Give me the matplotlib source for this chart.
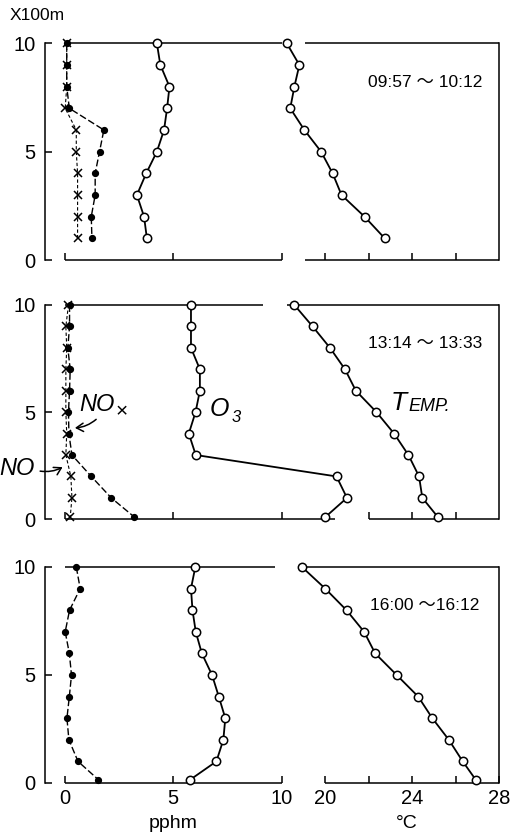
import matplotlib
matplotlib.use("Agg")
import matplotlib.pyplot as plt

plt.rcParams['font.family'] = ['Liberation Sans', 'Noto Sans CJK JP', 'DejaVu Sans']

# ---- vertical profiles (height in units of 100 m) ----
heights_1 = [10, 9, 8, 7, 6, 5, 4, 3, 2, 1]
no_1 = [0.1, 0.1, 0.1, 0.03, 0.54, 0.54, 0.6, 0.6, 0.6, 0.6]
nox_1 = [0.1, 0.1, 0.1, 0.22, 1.81, 1.61, 1.41, 1.41, 1.23, 1.26]
o3_1 = [4.25, 4.41, 4.83, 4.72, 4.58, 4.25, 3.76, 3.33, 3.66, 3.79]
temp_1 = [18.23, 18.81, 18.58, 18.39, 19.04, 19.81, 20.34, 20.75, 21.81, 22.74]

heights_2 = [10, 9, 8, 7, 6, 5, 4, 3, 2, 1, 0.1]
no_2 = [0.18, 0.06, 0.1, 0.06, 0.06, 0.06, 0.1, 0.06, 0.29, 0.34, 0.26]
nox_2 = [0.23, 0.23, 0.15, 0.26, 0.23, 0.18, 0.2, 0.34, 1.23, 2.15, 3.22]
o3_2 = [5.82, 5.82, 5.82, 6.23, 6.23, 6.03, 5.72, 6.04, 12.52, 13.0, 12.0]
temp_2 = [18.58, 19.42, 20.22, 20.91, 21.41, 22.36, 23.17, 23.83, 24.32, 24.47, 25.19]

heights_3 = [10, 9, 8, 7, 6, 5, 4, 3, 2, 1, 0.15]
nox_3 = [0.54, 0.72, 0.23, 0.03, 0.22, 0.32, 0.22, 0.11, 0.2, 0.62, 1.56]
o3_3 = [6.02, 5.82, 5.89, 6.04, 6.32, 6.79, 7.1, 7.4, 7.31, 6.99, 5.78]
temp_3 = [18.93, 20.0, 20.98, 21.79, 22.3, 23.29, 24.28, 24.93, 25.69, 26.33, 26.93]

periods = ["09:57 〜 10:12", "13:14 〜 13:33", "16:00 〜16:12"]

y_ticks = [0, 5, 10]
pphm_ticks = [0, 5, 10]
pphm_labels = ["0", "5", "10"]
degc_ticks = [20, 22, 24, 26, 28]
degc_labels = ["20", "", "24", "", "28"]

# the temperature scale shares the frame with the pphm scale: T (°C) sits at T - 8
T_SHIFT = 8

fig = plt.figure(figsize=(5.17, 8.33), dpi=100)

LEFT, WIDTH = 45 / 517, 454 / 517
boxes = [
    (1 - 260 / 833, 216.7 / 833),
    (1 - 519.3 / 833, 214.3 / 833),
    (1 - 783 / 833, 216.0 / 833),
]

# broken frame lines (top, bottom) and which °C ticks each panel shows
frames = [
    dict(top=[(0, 10), (11.07, 20)], bottom=[(0, 10), (11.07, 20)], degc=[20, 22, 24, 26]),
    dict(top=[(0, 9.13), (10.25, 20)], bottom=[(0, 12.45), (14, 20)], degc=[22, 24, 26]),
    dict(top=[(0, 9.7), (10.9, 20)], bottom=[(0, 10), (12, 20)], degc=[20, 22, 24, 26, 28]),
]

panels = [
    (heights_1, no_1, nox_1, o3_1, temp_1),
    (heights_2, no_2, nox_2, o3_2, temp_2),
    (heights_3, None, nox_3, o3_3, temp_3),
]

LW = 1.1
axes = []
for i, ((bottom, height), fr, (h, no, nox, o3, temp)) in enumerate(zip(boxes, frames, panels)):
    ax = fig.add_axes([LEFT, bottom, WIDTH, height])
    axes.append(ax)
    ax.set_xlim(-0.9, 20)
    ax.set_ylim(0, 10)
    for side in ("top", "bottom"):
        ax.spines[side].set_visible(False)
    for side in ("left", "right"):
        ax.spines[side].set_linewidth(LW)

    for a, b in fr["top"]:
        ax.plot([a, b], [10, 10], color="k", lw=LW, clip_on=False, solid_capstyle="butt")
    for a, b in fr["bottom"]:
        ax.plot([a, b], [0, 0], color="k", lw=LW, clip_on=False, solid_capstyle="butt")

    ticks = pphm_ticks + [t - T_SHIFT for t in fr["degc"]]
    labels = pphm_labels + [degc_labels[degc_ticks.index(t)] for t in fr["degc"]]
    ax.set_xticks(ticks)
    ax.set_xticklabels(labels)
    ax.set_yticks(y_ticks)
    ax.set_yticklabels([str(v) for v in y_ticks])
    ax.tick_params(axis="both", direction="in", length=5, width=LW, labelsize=14.5)
    ax.tick_params(axis="y", pad=7)
    ax.tick_params(axis="x", pad=4, labelbottom=(i == 2))

    if no is not None:
        ax.plot(no, h, color="k", lw=0.8, ls=(0, (3, 2)), marker="x", ms=5.5, mew=1.1,
                clip_on=False, zorder=3)
    ax.plot(nox, h, color="k", lw=1.0, ls=(0, (5, 2)), marker="o", ms=4.2, mfc="k",
            mec="k", clip_on=False, zorder=3)
    ax.plot(o3, h, color="k", lw=1.3, marker="o", ms=6, mfc="white", mec="k", mew=1.1,
            clip_on=False, zorder=4)
    ax.plot([t - T_SHIFT for t in temp], h, color="k", lw=1.3, marker="o", ms=6,
            mfc="white", mec="k", mew=1.1, clip_on=False, zorder=4)

    ax.text(16.6, 8.2, periods[i], ha="center", va="center", fontsize=12.5)

# series labels in the midday panel
ax2 = axes[1]
hand = dict(style="italic", color="k")
arrow = dict(arrowstyle="->,head_length=0.5,head_width=0.3", color="k", lw=1.1)
ax2.text(0.7, 5.35, "NO", fontsize=17, va="center", ha="left", **hand)
ax2.text(2.35, 5.0, "×", fontsize=15, va="center", ha="left", color="k")
ax2.annotate("", xy=(0.35, 4.26), xytext=(1.55, 4.75),
             arrowprops=dict(connectionstyle="arc3,rad=-0.2", **arrow))
ax2.text(-3.0, 2.35, "NO", fontsize=17, va="center", ha="left", **hand)
ax2.annotate("", xy=(0.02, 2.5), xytext=(-1.25, 2.27),
             arrowprops=dict(connectionstyle="arc3,rad=0.2", **arrow))
ax2.text(6.7, 5.15, "O", fontsize=18, va="center", ha="left", **hand)
ax2.text(7.7, 4.75, "3", fontsize=12, va="center", ha="left", **hand)
ax2.text(15.0, 5.45, "T", fontsize=19, va="center", ha="left", **hand)
ax2.text(15.85, 5.25, "EMP.", fontsize=13, va="center", ha="left", **hand)

fig.text(10 / 517, 1 - 16 / 833, "X100m", fontsize=12.5, ha="left", va="center")
fig.text(173 / 517, 1 - 823 / 833, "pphm", fontsize=14, ha="center", va="center")
fig.text(407 / 517, 1 - 823 / 833, "°C", fontsize=14, ha="center", va="center")

fig.savefig("out.png", dpi=100)
